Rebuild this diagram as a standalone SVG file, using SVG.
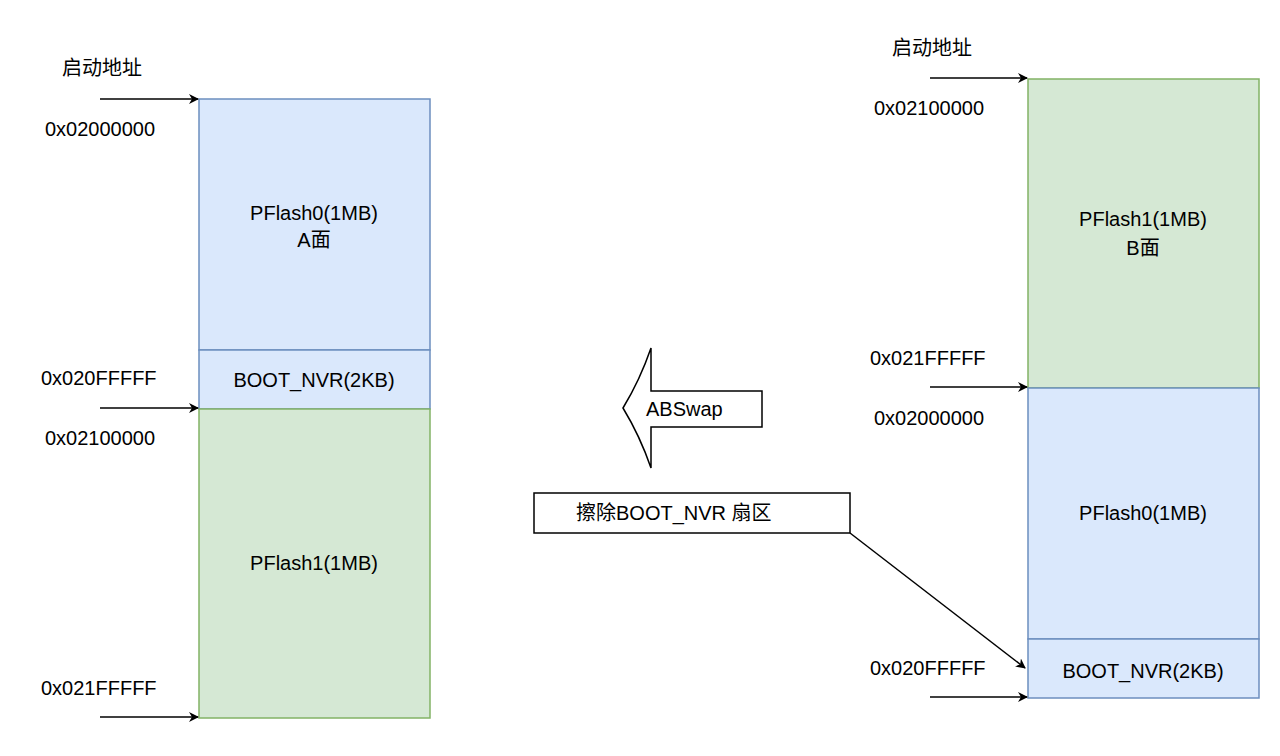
<svg xmlns="http://www.w3.org/2000/svg" width="1280" height="756" viewBox="0 0 1280 756">
<style>
text{font-family:"Liberation Sans","Noto Sans CJK SC",sans-serif;font-size:20px;fill:#000}
.b{fill:#dae8fc;stroke:#6c8ebf;stroke-width:1.5}
.g{fill:#d5e8d4;stroke:#82b366;stroke-width:1.5}
.c{stroke:#000;stroke-width:1.5;fill:none;marker-end:url(#a)}
.m{text-anchor:middle}
</style>
<defs><marker id="a" markerWidth="10" markerHeight="10" refX="9" refY="5" orient="auto" markerUnits="userSpaceOnUse"><path d="M0,0 L10,5 L0,10 L3,5 Z" fill="#000"/></marker></defs>
<rect width="1280" height="756" fill="#fff"/>
<g id="left">
<rect class="b" x="199" y="99" width="231" height="251"/>
<text class="m" x="314" y="220">PFlash0(1MB)</text><text class="m" x="314" y="247">A面</text>
<rect class="b" x="199" y="350" width="231" height="59"/>
<text class="m" x="314" y="387">BOOT_NVR(2KB)</text>
<rect class="g" x="199" y="409" width="231" height="309"/>
<text class="m" x="314" y="570">PFlash1(1MB)</text>
<text x="62" y="75">启动地址</text>
<text x="45" y="136">0x02000000</text>
<text x="41" y="385">0x020FFFFF</text>
<text x="45" y="445">0x02100000</text>
<text x="41" y="695">0x021FFFFF</text>
</g>
<g id="right">
<rect class="g" x="1028" y="79" width="231" height="309"/>
<text class="m" x="1143" y="226">PFlash1(1MB)</text><text class="m" x="1143" y="255">B面</text>
<rect class="b" x="1028" y="388" width="231" height="251"/>
<text class="m" x="1143" y="520">PFlash0(1MB)</text>
<rect class="b" x="1028" y="639" width="231" height="59"/>
<text class="m" x="1143" y="678">BOOT_NVR(2KB)</text>
<text x="892" y="55">启动地址</text>
<text x="874" y="115">0x02100000</text>
<text x="870" y="365">0x021FFFFF</text>
<text x="874" y="425">0x02000000</text>
<text x="870" y="675">0x020FFFFF</text>
</g>
<g id="swap">
<path d="M623,408 Q640,380 651,348 L651,391 L762,391 L762,427 L651,427 L651,468 Q640,436 623,408 Z" fill="#fff" stroke="#000" stroke-width="1.5"/>
<text x="646" y="416">ABSwap</text>
</g>
<g id="erase">
<rect x="534" y="493" width="316" height="40" fill="#fff" stroke="#000" stroke-width="1.5"/>
<text x="576" y="520">擦除BOOT_NVR 扇区</text>
</g>
<g id="connectors">
<line class="c" x1="100" y1="99" x2="198" y2="99"/>
<line class="c" x1="100" y1="408" x2="198" y2="408"/>
<line class="c" x1="100" y1="717" x2="198" y2="717"/>
<line class="c" x1="930" y1="78" x2="1027" y2="78"/>
<line class="c" x1="930" y1="387" x2="1027" y2="387"/>
<line class="c" x1="930" y1="697" x2="1027" y2="697"/>
<line class="c" x1="850" y1="533" x2="1025" y2="668"/>
</g>
</svg>
